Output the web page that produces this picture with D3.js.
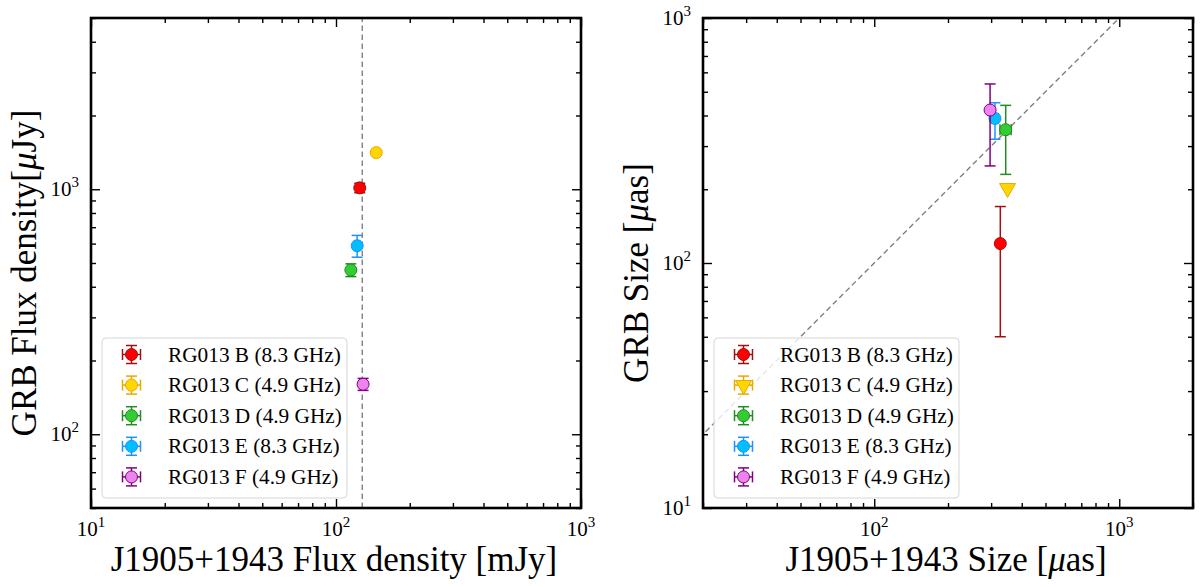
<!DOCTYPE html>
<html>
<head>
<meta charset="utf-8">
<script src="https://cdn.jsdelivr.net/npm/d3@7"></script>
<style>
  body { margin: 0; background: #fff; }
  svg text { font-family: "Liberation Serif", "DejaVu Serif", serif; fill: #000; }
</style>
</head>
<body>
<svg id="chart" width="1200" height="587"></svg>
<script>
// observations, shared by both panels
var labels = ["RG013 B (8.3 GHz)", "RG013 C (4.9 GHz)", "RG013 D (4.9 GHz)",
              "RG013 E (8.3 GHz)", "RG013 F (4.9 GHz)"];
var fillColors = ["#ff0000", "#ffd700", "#32cd32", "#00bfff", "#ee82ee"];
var edgeColors = ["#a01010", "#e8a800", "#228b22", "#1e90ff", "#800080"];

// left panel: flux density of the calibrator vs the GRB
var calFlux = [125, 146, 115, 122, 129];
var calFluxErr = [3, 0, 3, 3, 3];
var grbFlux = [1013, 1411, 468, 588, 160];
var grbFluxErr = [45, 0, 28, 60, 9];
var calFluxMean = [128];

// right panel: sizes (C is an upper limit)
var calSize = [327, 350, 344, 311, 297];
var calSizeErr = [0, 0, 18, 10, 0];
var grbSize = [120, 202, 350, 389, 421];
var grbSizeErrLo = [70, 0, 120, 69, 172];
var grbSizeErrHi = [50, 0, 90, 62, 117];
var upperLimit = [false, true, false, false, false];
var equalityLine = [10, 3000];

// axis ranges
var fluxXDomain = [10, 1000], fluxYDomain = [50, 5000];
var sizeXDomain = [20, 2000], sizeYDomain = [10, 1000];

var svg = d3.select("#chart");
var W = 490, H = 490, CAP = 5.5;

function supLabel(sel, v) {
    var e = Math.round(Math.log10(v));
    sel.append("tspan").text("10");
    sel.append("tspan").attr("dy", -9).attr("font-size", 15).text(e);
}

function triangle(g, x, y, fill, edge) {
    g.append("path")
        .attr("d", d3.symbol(d3.symbolTriangle, 110)())
        .attr("transform", "translate(" + x + "," + y + ") rotate(180)")
        .attr("fill", fill).attr("stroke", edge).attr("stroke-width", 1);
}

// vertical error bar with caps
function vBar(g, x, y0, y1, color) {
    if (y0 === y1) return;
    g.append("line").attr("x1", x).attr("x2", x).attr("y1", y0).attr("y2", y1)
        .attr("stroke", color).attr("stroke-width", 1.5);
    [y0, y1].forEach(function (yy) {
        g.append("line").attr("x1", x - CAP).attr("x2", x + CAP).attr("y1", yy).attr("y2", yy)
            .attr("stroke", color).attr("stroke-width", 1.5);
    });
}

// horizontal error bar with caps
function hBar(g, y, x0, x1, color) {
    if (x0 === x1) return;
    g.append("line").attr("x1", x0).attr("x2", x1).attr("y1", y).attr("y2", y)
        .attr("stroke", color).attr("stroke-width", 1.5);
    [x0, x1].forEach(function (xx) {
        g.append("line").attr("x1", xx).attr("x2", xx).attr("y1", y - CAP).attr("y2", y + CAP)
            .attr("stroke", color).attr("stroke-width", 1.5);
    });
}

function drawPanel(p) {
    var g = svg.append("g").attr("transform", "translate(" + p.left + "," + p.top + ")");
    var x = d3.scaleLog().domain(p.xDomain).range([0, W]);
    var y = d3.scaleLog().domain(p.yDomain).range([H, 0]);

    var clipId = "clip" + p.left;
    g.append("clipPath").attr("id", clipId)
        .append("rect").attr("width", W).attr("height", H);
    var plot = g.append("g").attr("clip-path", "url(#" + clipId + ")");

    // reference line
    plot.append("path")
        .datum(p.line)
        .attr("d", d3.line().x(function (d) { return x(d[0]); }).y(function (d) { return y(d[1]); }))
        .attr("fill", "none").attr("stroke", "#808080")
        .attr("stroke-width", 1.4).attr("stroke-dasharray", "5.5,3.5");

    // points
    p.xs.forEach(function (xv, i) {
        var px = x(xv), py = y(p.ys[i]);
        vBar(plot, px, y(p.ys[i] + p.yHi[i]), y(p.ys[i] - p.yLo[i]), edgeColors[i]);
        hBar(plot, py, x(xv - p.xErr[i]), x(xv + p.xErr[i]), edgeColors[i]);
        if (p.limit && p.limit[i]) {
            triangle(plot, px, py, fillColors[i], edgeColors[i]);
        } else {
            plot.append("circle").attr("cx", px).attr("cy", py).attr("r", 6)
                .attr("fill", fillColors[i]).attr("stroke", edgeColors[i]).attr("stroke-width", 1);
        }
    });

    // ticks on all four sides, pointing in
    var isDecade = function (v) { return Math.abs(Math.log10(v) % 1) < 1e-9; };
    var majX = x.ticks().filter(isDecade), majY = y.ticks().filter(isDecade);
    var minX = x.ticks().filter(function (v) { return !isDecade(v); });
    var minY = y.ticks().filter(function (v) { return !isDecade(v); });
    var sides = [
        [d3.axisBottom(x), [0, H], majX, minX],
        [d3.axisTop(x), [0, 0], majX, minX],
        [d3.axisLeft(y), [0, 0], majY, minY],
        [d3.axisRight(y), [W, 0], majY, minY]
    ];
    sides.forEach(function (s) {
        [[s[2], -9], [s[3], -5]].forEach(function (t) {
            var a = g.append("g").attr("transform", "translate(" + s[1][0] + "," + s[1][1] + ")")
                .call(s[0].tickValues(t[0]).tickSize(t[1]).tickFormat(""));
            a.select(".domain").remove();
            a.selectAll(".tick line").attr("stroke", "#000").attr("stroke-width", 1.4);
        });
    });

    // frame
    g.append("rect").attr("width", W).attr("height", H)
        .attr("fill", "none").attr("stroke", "#000").attr("stroke-width", 2.6);

    // tick labels
    majX.forEach(function (v) {
        g.append("text").attr("x", x(v)).attr("y", H + 28).attr("text-anchor", "middle")
            .attr("font-size", 21).call(supLabel, v);
    });
    majY.forEach(function (v) {
        g.append("text").attr("x", -12).attr("y", y(v) + 7).attr("text-anchor", "end")
            .attr("font-size", 21).call(supLabel, v);
    });

    // axis titles
    var xt = g.append("text").attr("x", W / 2 - 2).attr("y", H + 63)
        .attr("text-anchor", "middle").attr("font-size", 35);
    p.xTitle(xt);
    var yt = g.append("text").attr("transform", "translate(" + (-55) + "," + (H / 2 + 10) + ") rotate(-90)")
        .attr("text-anchor", "middle").attr("font-size", 35);
    p.yTitle(yt);

    // legend
    var lg = g.append("g").attr("transform", "translate(11,320)");
    lg.append("rect").attr("width", 245).attr("height", 160).attr("rx", 4)
        .attr("fill", "#fff").attr("fill-opacity", 0.8)
        .attr("stroke", "#d6d6d6").attr("stroke-width", 1);
    labels.forEach(function (lab, i) {
        var ry = 16.5 + i * 30.6, rx = 29.5;
        vBar(lg, rx, ry - 9, ry + 9, edgeColors[i]);
        hBar(lg, ry, rx - 9, rx + 9, edgeColors[i]);
        if (p.limit && p.limit[i]) {
            triangle(lg, rx, ry, fillColors[i], edgeColors[i]);
        } else {
            lg.append("circle").attr("cx", rx).attr("cy", ry).attr("r", 6)
                .attr("fill", fillColors[i]).attr("stroke", edgeColors[i]).attr("stroke-width", 1);
        }
        lg.append("text").attr("x", 66).attr("y", ry + 7).attr("font-size", 21.3).text(lab);
    });
}

function unitTitle(pre, unit, post) {
    return function (t) {
        t.append("tspan").text(pre);
        t.append("tspan").attr("font-style", "italic").text("\u03bc");
        t.append("tspan").text(unit + post);
    };
}

drawPanel({
    left: 91, top: 18,
    xDomain: fluxXDomain, yDomain: fluxYDomain,
    xs: calFlux, xErr: calFluxErr, ys: grbFlux, yLo: grbFluxErr, yHi: grbFluxErr,
    line: [[calFluxMean[0], fluxYDomain[0]], [calFluxMean[0], fluxYDomain[1]]],
    xTitle: function (t) { t.text("J1905+1943 Flux density [mJy]"); },
    yTitle: unitTitle("GRB Flux density[", "Jy", "]")
});

drawPanel({
    left: 703, top: 18,
    xDomain: sizeXDomain, yDomain: sizeYDomain,
    xs: calSize, xErr: calSizeErr, ys: grbSize, yLo: grbSizeErrLo, yHi: grbSizeErrHi,
    limit: upperLimit,
    line: [[equalityLine[0], equalityLine[0]], [equalityLine[1], equalityLine[1]]],
    xTitle: unitTitle("J1905+1943 Size [", "as", "]"),
    yTitle: unitTitle("GRB Size [", "as", "]")
});
</script>
</body>
</html>
